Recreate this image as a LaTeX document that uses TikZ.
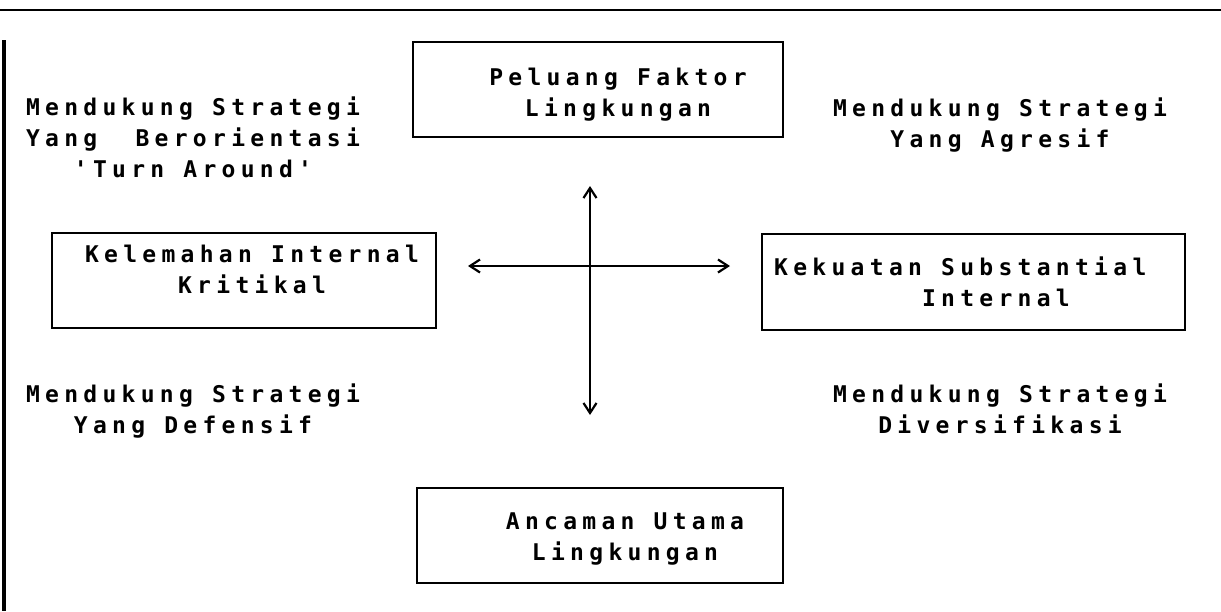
\documentclass[tikz,border=0pt]{standalone}
\usepackage{fontspec}
\newfontfamily\dmono[LetterSpace=23]{DejaVu Sans Mono}
\usetikzlibrary{arrows.meta}
\begin{document}
\begin{tikzpicture}[x=1pt,y=-1pt,
  txt/.style={font=\dmono\bfseries\fontsize{23}{31}\selectfont, inner sep=0pt, align=center, anchor=base},
  txtl/.style={txt, align=left, anchor=base west},
  box/.style={draw, line width=2.2pt, inner sep=0pt, rectangle},
  rule/.style={line width=2.5pt},
  tip/.style={line width=2.2pt, {Straight Barb[length=10pt,width=13pt]}-{Straight Barb[length=10pt,width=13pt]}}]
\useasboundingbox (0,0) rectangle (1221,611);
% frame rules
\coordinate (tl) at (0,10);
\coordinate (tr) at (1221,10);
\coordinate (ls) at (4,40);
\coordinate (le) at (4,611);
\draw[rule] (tl) -- (tr);
\draw[line width=3.5pt] (ls) -- (le);
% boxes
\node[box, minimum width=370pt, minimum height=95pt] (peluang) at (598,89.5) {};
\node[box, minimum width=384pt, minimum height=95pt] (kelemahan) at (244,280.5) {};
\node[box, minimum width=423pt, minimum height=96pt] (kekuatan) at (973.5,282) {};
\node[box, minimum width=366pt, minimum height=95pt] (ancaman) at (600,535.5) {};
% box texts (anchor = baseline of last line)
\node[txt] (peluangT) at (618,116) {Peluang Faktor\\Lingkungan};
\node[txt] (kelemahanT) at (252,293) {Kelemahan Internal\\Kritikal};
\node[txtl] (kekuatanT) at (774,306) {Kekuatan Substantial\\\hphantom{Kekuatan}Internal};
\node[txt] (ancamanT) at (625,560) {Ancaman Utama\\Lingkungan};
% quadrant texts
\node[txt] (q1) at (193,177) {Mendukung Strategi\\Yang\ \ Berorientasi\\'Turn Around'};
\node[txt] (q2) at (1000,147) {Mendukung Strategi\\Yang Agresif};
\node[txt] (q3) at (193,433) {Mendukung Strategi\\Yang Defensif};
\node[txt] (q4) at (1000,433) {Mendukung Strategi\\Diversifikasi};
% axes
\coordinate (vt) at (590,186);
\coordinate (vb) at (590,415);
\coordinate (hl) at (468,266);
\coordinate (hr) at (730,266);
\draw[tip] (vt) -- (vb);
\draw[tip] (hl) -- (hr);
\end{tikzpicture}
\end{document}
